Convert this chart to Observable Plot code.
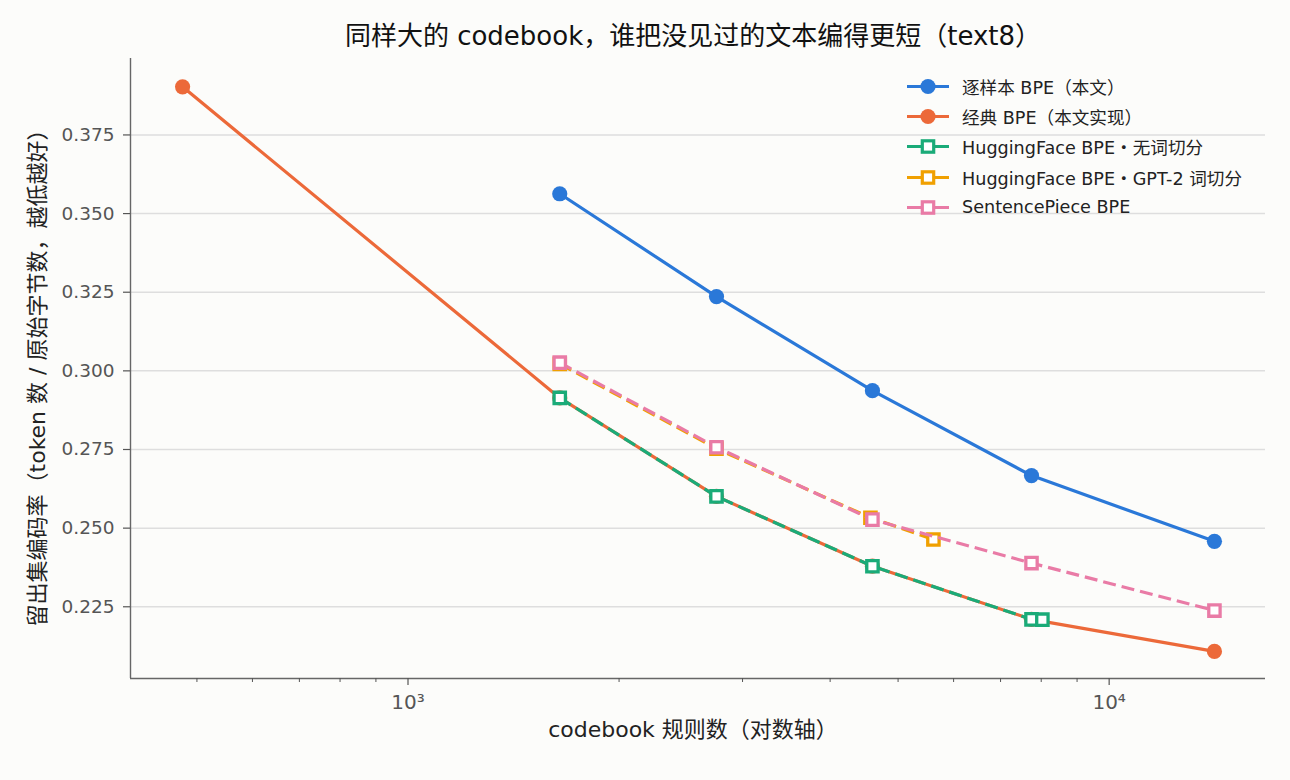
<!DOCTYPE html>
<html>
<head>
<meta charset="utf-8">
<script src="https://cdn.jsdelivr.net/npm/d3@7"></script>
<script src="https://cdn.jsdelivr.net/npm/@observablehq/plot@0.6"></script>
<style>
  html, body { margin: 0; padding: 0; background: #fcfcfa; }
  body { width: 1290px; height: 780px; position: relative; overflow: hidden; font-family: "DejaVu Sans", "Noto Sans CJK SC", sans-serif; }
  #title { height: 58px; line-height: 72px; text-align: center; font-size: 26px; color: #111; padding-left: 96px; white-space: nowrap; }
  #legend { position: absolute; left: 904px; top: 71px; font-size: 17.6px; color: #222; }
  .row { height: 30.3px; display: flex; align-items: center; white-space: nowrap; }
  .row svg { margin-right: 12px; }
</style>
</head>
<body>
<div id="title">同样大的 codebook，谁把没见过的文本编得更短（text8）</div>
<div id="chart"></div>
<div id="legend"></div>
<script>
// ---- data ----
const blueX  = [1646, 2754, 4596, 7749, 14130];
const blueY  = [0.3563, 0.3236, 0.2937, 0.2667, 0.2458];

const orangeX = [477, 1646, 2754, 4596, 7749, 14130];
const orangeY = [0.3903, 0.2914, 0.2601, 0.2379, 0.2210, 0.2108];

const greenX = [1646, 2754, 4596, 7749, 8031];
const greenY = [0.2914, 0.2601, 0.2379, 0.2210, 0.2209];

const yellowX = [1646, 2754, 4566, 5615];
const yellowY = [0.3022, 0.2753, 0.2533, 0.2464];

const pinkX = [1646, 2754, 4596, 7749, 14130];
const pinkY = [0.3026, 0.2757, 0.2527, 0.2389, 0.2238];

const seriesNames = ["逐样本 BPE（本文）", "经典 BPE（本文实现）", "HuggingFace BPE・无词切分", "HuggingFace BPE・GPT-2 词切分", "SentencePiece BPE"];
const seriesColors = ["#2a78d8", "#ec6939", "#1aab78", "#f0a000", "#e97ba6"];
const seriesDashed = [false, false, true, true, true];
const seriesSquare = [false, false, true, true, true];

const xMajorTicks = [1000, 10000];
const xMajorLabels = ["10³", "10⁴"];
const xMinorTicks = [500, 600, 700, 800, 900, 2000, 3000, 4000, 5000, 6000, 7000, 8000, 9000];
const yTicks = [0.225, 0.250, 0.275, 0.300, 0.325, 0.350, 0.375];

const xLabel = "codebook 规则数（对数轴）";
const yLabel = "留出集编码率（token 数 / 原始字节数，越低越好）";

// ---- build ----
const xs = [blueX, orangeX, greenX, yellowX, pinkX];
const ys = [blueY, orangeY, greenY, yellowY, pinkY];
const series = xs.map((xArr, i) => xArr.map((x, j) => ({x, y: ys[i][j]})));

const xDomain = [402, 16710];
const yDomain = [0.2022, 0.3993];
const FONT = "'DejaVu Sans', 'Noto Sans CJK SC', sans-serif";
const DASH = "13,6";

const marks = [
  Plot.gridY(yTicks, {stroke: "#dedede", strokeOpacity: 1, strokeWidth: 1.5}),
];
series.forEach((data, i) => {
  marks.push(Plot.line(data, {
    x: "x", y: "y", stroke: seriesColors[i], strokeWidth: 3.2,
    strokeDasharray: seriesDashed[i] ? DASH : null, strokeLinecap: "butt"
  }));
  if (seriesSquare[i]) {
    marks.push(Plot.dot(data, {x: "x", y: "y", symbol: "square", r: 6.4, fill: "white", stroke: seriesColors[i], strokeWidth: 3.3}));
  } else {
    marks.push(Plot.dot(data, {x: "x", y: "y", r: 7.6, fill: seriesColors[i], stroke: "none"}));
  }
});
marks.push(
  Plot.ruleX([xDomain[0]], {stroke: "#666", strokeWidth: 1.4}),
  Plot.ruleY([yDomain[0]], {stroke: "#666", strokeWidth: 1.4}),
  Plot.axisY(yTicks, {tickSize: 7, tickPadding: 9, tickFormat: d3.format(".3f"), color: "#555", fontSize: 18.5, label: null, strokeWidth: 1.2}),
  Plot.axisX(xMajorTicks, {tickSize: 7, tickPadding: 9, tickFormat: (d) => xMajorLabels[xMajorTicks.indexOf(d)], color: "#555", fontSize: 20, label: null, strokeWidth: 1.2}),
  Plot.axisX(xMinorTicks, {tickSize: 4, tickFormat: () => "", color: "#555", label: null, strokeWidth: 1}),
  Plot.text([yLabel], {frameAnchor: "left", textAnchor: "middle", dx: -93, dy: 4, rotate: -90, fontSize: 22, fill: "#222"}),
  Plot.text([xLabel], {frameAnchor: "bottom", textAnchor: "middle", dx: -5, dy: 58, fontSize: 22, fill: "#222"})
);

const chart = Plot.plot({
  width: 1290,
  height: 722,
  marginTop: 0,
  marginLeft: 130,
  marginRight: 25,
  marginBottom: 102,
  x: {type: "log", domain: xDomain},
  y: {domain: yDomain},
  style: {background: "transparent", fontFamily: FONT, fontSize: "18.5px", overflow: "visible"},
  marks
});
document.getElementById("chart").appendChild(chart);

// ---- legend (HTML, real text) ----
const legend = document.getElementById("legend");
seriesNames.forEach((name, i) => {
  const row = document.createElement("div");
  row.className = "row";
  const c = seriesColors[i];
  const marker = seriesSquare[i]
    ? `<rect x="18.3" y="5.8" width="11.4" height="11.4" fill="white" stroke="${c}" stroke-width="3.2"/>`
    : `<circle cx="24" cy="11.5" r="7.6" fill="${c}"/>`;
  const dash = seriesDashed[i] ? `stroke-dasharray="16,10"` : "";
  row.innerHTML = `<svg width="46" height="23"><line x1="3" y1="11.5" x2="45" y2="11.5" stroke="${c}" stroke-width="3.2" ${dash}/>${marker}</svg><span>${name}</span>`;
  legend.appendChild(row);
});
</script>
</body>
</html>
